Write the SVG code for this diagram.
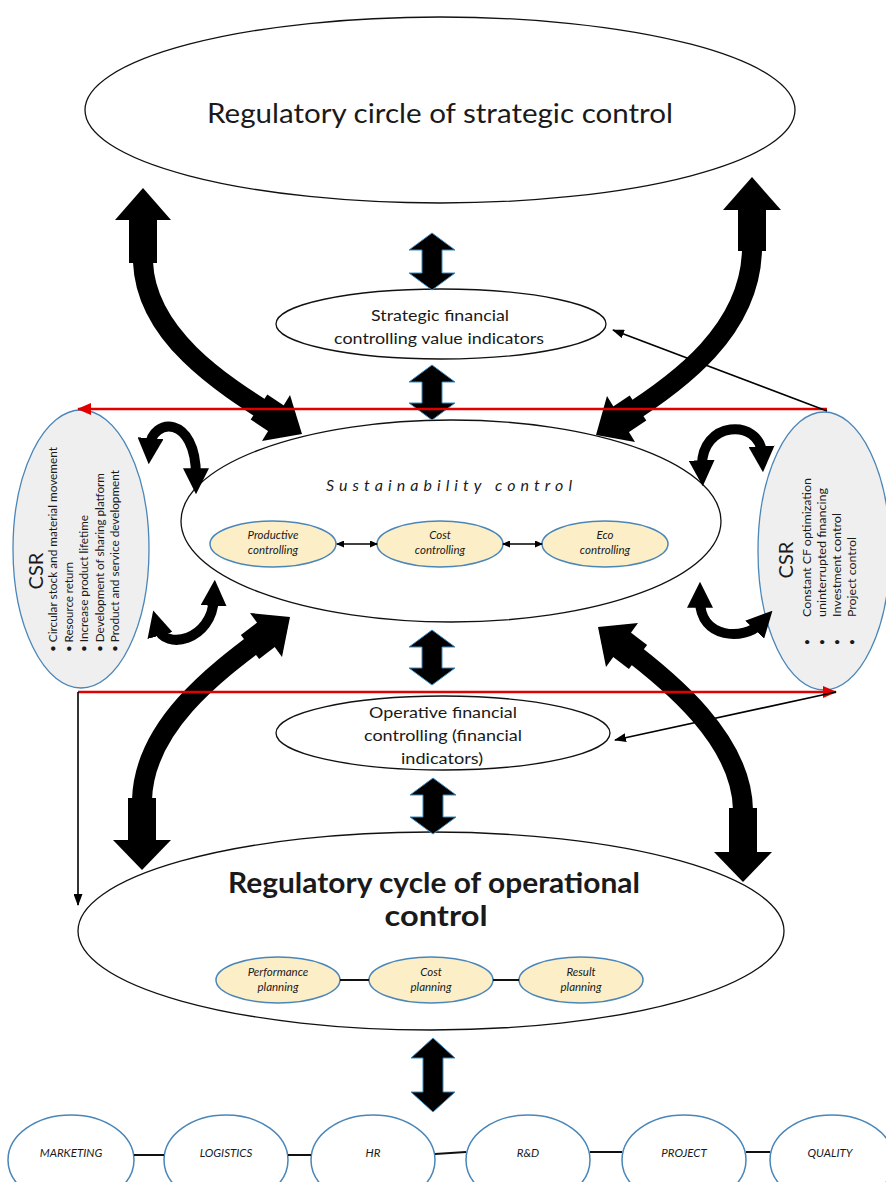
<svg xmlns="http://www.w3.org/2000/svg" width="886" height="1182" viewBox="0 0 886 1182">
<style>
text{font-family:Lato,"Open Sans","Liberation Sans",sans-serif;fill:#1a1a1a}
.el{fill:#fff;stroke:#111;stroke-width:1.3}
.csr{fill:#efefef;stroke:#4a86b8;stroke-width:1.3}
.inner{fill:#fcefc8;stroke:#4a86b8;stroke-width:1.5}
.unit{fill:#fff;stroke:#4a86b8;stroke-width:1.5}
.lbl{font-size:15px;text-anchor:middle}
.it{font-size:11.5px;font-style:italic;text-anchor:middle}
.bt{font-size:11.5px;font-style:italic;text-anchor:middle}
.csrt{font-size:20px}
.li{font-size:11px}
.big{fill:none;stroke:#000;stroke-width:20}
.wide{fill:none;stroke:#000;stroke-width:30}
.cur{fill:none;stroke:#000;stroke-width:10;marker-start:url(#mk);marker-end:url(#mk)}
.dbl{fill:#000;stroke:#3b8cc4;stroke-width:1}
.red{fill:none;stroke:#e00000;stroke-width:2.5}
.thin{fill:none;stroke:#000;stroke-width:1.6}
.link{fill:none;stroke:#111;stroke-width:2}
</style>
<defs>
<marker id="mk" viewBox="0 0 10 10" refX="3" refY="5" markerWidth="2.6" markerHeight="2.6" orient="auto-start-reverse"><path d="M0,0 L10,5 L0,10 Z" fill="#000"/></marker>
<marker id="mr" viewBox="0 0 14 12" refX="13" refY="6" markerWidth="14" markerHeight="12" markerUnits="userSpaceOnUse" orient="auto"><path d="M0,0 L14,6 L0,12 Z" fill="#e00000"/></marker>
<marker id="mb" viewBox="0 0 12 9" refX="11" refY="4.5" markerWidth="12" markerHeight="9" markerUnits="userSpaceOnUse" orient="auto"><path d="M0,0 L12,4.5 L0,9 Z" fill="#000"/></marker>
<marker id="ms" viewBox="0 0 8 7" refX="7" refY="3.5" markerWidth="8" markerHeight="7" markerUnits="userSpaceOnUse" orient="auto-start-reverse"><path d="M0,0 L8,3.5 L0,7 Z" fill="#000"/></marker>
</defs>
<rect width="886" height="1182" fill="#fff"/>

<g id="strategic-control">
<ellipse class="el" cx="440" cy="110" rx="355" ry="93"/>
<text x="440" y="123" font-size="27" text-anchor="middle" textLength="466" lengthAdjust="spacingAndGlyphs">Regulatory circle of strategic control</text>
</g>

<g id="strategic-financial">
<ellipse class="el" cx="441" cy="324" rx="165" ry="35"/>
<text class="lbl" x="440" y="321" textLength="138" lengthAdjust="spacingAndGlyphs">Strategic financial</text>
<text class="lbl" x="439" y="344" textLength="210" lengthAdjust="spacingAndGlyphs">controlling value indicators</text>
</g>

<g id="sustainability-control">
<ellipse class="el" cx="451" cy="521" rx="270" ry="101"/>
<text x="449" y="491" font-size="16" font-style="italic" text-anchor="middle" textLength="246" lengthAdjust="spacing">Sustainability control</text>
</g>

<g id="productive-controlling">
<ellipse class="inner" cx="273" cy="544" rx="63" ry="23"/>
<text class="it" x="273" y="539">Productive</text>
<text class="it" x="273" y="554">controlling</text>
</g>
<g id="cost-controlling">
<ellipse class="inner" cx="440" cy="544" rx="63" ry="23"/>
<text class="it" x="440" y="539">Cost</text>
<text class="it" x="440" y="554">controlling</text>
</g>
<g id="eco-controlling">
<ellipse class="inner" cx="605" cy="544" rx="63" ry="23"/>
<text class="it" x="605" y="539">Eco</text>
<text class="it" x="605" y="554">controlling</text>
</g>

<g id="csr-left">
<ellipse class="csr" cx="81" cy="549" rx="68" ry="139"/>
<text class="csrt" transform="translate(43,571) rotate(-90)" text-anchor="middle">CSR</text>
<text class="li" transform="translate(57,652) rotate(-90)" textLength="205" lengthAdjust="spacingAndGlyphs">• Circular stock and material movement</text>
<text class="li" transform="translate(72.5,652) rotate(-90)" textLength="90" lengthAdjust="spacingAndGlyphs">• Resource return</text>
<text class="li" transform="translate(88,652) rotate(-90)" textLength="137" lengthAdjust="spacingAndGlyphs">• Increase product lifetime</text>
<text class="li" transform="translate(103.5,652) rotate(-90)" textLength="179" lengthAdjust="spacingAndGlyphs">• Development of sharing platform</text>
<text class="li" transform="translate(119,652) rotate(-90)" textLength="182" lengthAdjust="spacingAndGlyphs">• Product and service development</text>
</g>

<g id="csr-right">
<ellipse class="csr" cx="824" cy="551" rx="66" ry="139"/>
<text class="csrt" transform="translate(793,560) rotate(-90)" text-anchor="middle">CSR</text>
<text class="li" transform="translate(811,642) rotate(-90)" text-anchor="middle">•</text>
<text class="li" transform="translate(826,642) rotate(-90)" text-anchor="middle">•</text>
<text class="li" transform="translate(841,642) rotate(-90)" text-anchor="middle">•</text>
<text class="li" transform="translate(856,642) rotate(-90)" text-anchor="middle">•</text>
<text class="li" transform="translate(811,617) rotate(-90)" textLength="139" lengthAdjust="spacingAndGlyphs">Constant CF optimization</text>
<text class="li" transform="translate(826,617) rotate(-90)" textLength="129" lengthAdjust="spacingAndGlyphs">uninterrupted financing</text>
<text class="li" transform="translate(841,617) rotate(-90)" textLength="104" lengthAdjust="spacingAndGlyphs">Investment control</text>
<text class="li" transform="translate(856,617) rotate(-90)" textLength="80" lengthAdjust="spacingAndGlyphs">Project control</text>
</g>

<g id="operative-financial">
<ellipse class="el" cx="443" cy="733" rx="167" ry="37"/>
<text class="lbl" x="443" y="718" textLength="148" lengthAdjust="spacingAndGlyphs">Operative financial</text>
<text class="lbl" x="443" y="741" textLength="158" lengthAdjust="spacingAndGlyphs">controlling (financial</text>
<text class="lbl" x="442" y="764" textLength="82" lengthAdjust="spacingAndGlyphs">indicators)</text>
</g>

<g id="operational-control">
<ellipse class="el" cx="431" cy="931" rx="353" ry="99"/>
<text x="434" y="893" font-size="28" font-weight="bold" text-anchor="middle" textLength="412" lengthAdjust="spacingAndGlyphs">Regulatory cycle of operational</text>
<text x="436" y="926" font-size="28" font-weight="bold" text-anchor="middle" textLength="103" lengthAdjust="spacingAndGlyphs">control</text>
</g>

<g id="performance-planning">
<ellipse class="inner" cx="278" cy="980" rx="62" ry="23"/>
<text class="it" x="278" y="976">Performance</text>
<text class="it" x="278" y="991">planning</text>
</g>
<g id="cost-planning">
<ellipse class="inner" cx="431" cy="980" rx="62" ry="23"/>
<text class="it" x="431" y="976">Cost</text>
<text class="it" x="431" y="991">planning</text>
</g>
<g id="result-planning">
<ellipse class="inner" cx="581" cy="980" rx="62" ry="23"/>
<text class="it" x="581" y="976">Result</text>
<text class="it" x="581" y="991">planning</text>
</g>

<g id="marketing"><ellipse class="unit" cx="71" cy="1160" rx="63" ry="45"/><text class="bt" x="71" y="1157">MARKETING</text></g>
<g id="logistics"><ellipse class="unit" cx="226" cy="1160" rx="62" ry="45"/><text class="bt" x="226" y="1157">LOGISTICS</text></g>
<g id="hr"><ellipse class="unit" cx="373" cy="1160" rx="62" ry="45"/><text class="bt" x="373" y="1157">HR</text></g>
<g id="rnd"><ellipse class="unit" cx="528" cy="1160" rx="62" ry="45"/><text class="bt" x="528" y="1157">R&amp;D</text></g>
<g id="project"><ellipse class="unit" cx="684" cy="1160" rx="62" ry="45"/><text class="bt" x="684" y="1157">PROJECT</text></g>
<g id="quality"><ellipse class="unit" cx="832" cy="1160" rx="62" ry="45"/><text class="bt" x="830" y="1157">QUALITY</text></g>

<g id="connectors">
<polygon points="143,188 115,220 171,220"/>
<rect x="129" y="219" width="28" height="44"/>
<path class="big" d="M143,262 C146,335 220,383 276,418"/>
<path class="wide" d="M259,407 L277,419"/>
<polygon points="302,434 262,441 290,395"/>

<polygon points="752,177 723,210 781,210"/>
<rect x="738" y="209" width="28" height="42"/>
<path class="big" d="M752,250 C750,330 680,382 621,419"/>
<path class="wide" d="M638,408 L620,420"/>
<polygon points="596,435 635,442 607,396"/>

<polygon points="142,870 113,840 171,840"/>
<rect x="128" y="798" width="28" height="43"/>
<path class="big" d="M142,800 C144,725 218,671 266,635"/>
<path class="wide" d="M250,647 L267,634"/>
<polygon points="290,617 282,657 250,613"/>

<polygon points="743,882 714,852 772,852"/>
<rect x="729" y="808" width="28" height="45"/>
<path class="big" d="M743,810 C742,740 670,681 622,645"/>
<path class="wide" d="M638,657 L621,644"/>
<polygon points="598,627 638,623 606,667"/>

<path class="cur" d="M150,446 C152,418 196,414 196,476"/>
<path class="cur" d="M158,628 C164,650 212,642 214,598"/>
<path class="cur" d="M702,468 C700,420 760,418 762,454"/>
<path class="cur" d="M700,600 C700,640 745,640 760,624"/>

<path class="dbl" d="M432,233 L455,250 L442,250 L442,273 L455,273 L432,290 L409,273 L422,273 L422,250 L409,250 Z"/>
<path class="dbl" d="M432,365 L455,382 L442,382 L442,403 L455,403 L432,420 L409,403 L422,403 L422,382 L409,382 Z"/>
<path class="dbl" d="M432,630 L455,647 L442,647 L442,668 L455,668 L432,685 L409,668 L422,668 L422,647 L409,647 Z"/>
<path class="dbl" d="M433,778 L456,795 L443,795 L443,817 L456,817 L433,834 L410,817 L423,817 L423,795 L410,795 Z"/>
<path class="dbl" d="M433,1038 L455,1058 L443,1058 L443,1092 L455,1092 L433,1112 L411,1092 L423,1092 L423,1058 L411,1058 Z"/>

<path class="red" d="M827,409 L78,409" marker-end="url(#mr)"/>
<path class="red" d="M78,692 L836,692" marker-end="url(#mr)"/>
<path class="thin" d="M78,692 L78,905" marker-end="url(#mb)"/>
<path class="thin" d="M827,411 L613,330" marker-end="url(#mb)"/>
<path class="thin" d="M836,692 L615,740" marker-end="url(#mb)"/>

<path class="thin" d="M337,544 L377,544" marker-start="url(#ms)" marker-end="url(#ms)"/>
<path class="thin" d="M503,544 L542,544" marker-start="url(#ms)" marker-end="url(#ms)"/>
<path class="link" d="M340,980 L369,980"/>
<path class="link" d="M493,980 L519,980"/>
<path class="link" d="M134,1155 L164,1155"/>
<path class="link" d="M288,1155 L311,1155"/>
<path class="link" d="M435,1154 L466,1152"/>
<path class="link" d="M590,1152 L622,1152"/>
<path class="link" d="M746,1152 L770,1152"/>
</g>
</svg>
